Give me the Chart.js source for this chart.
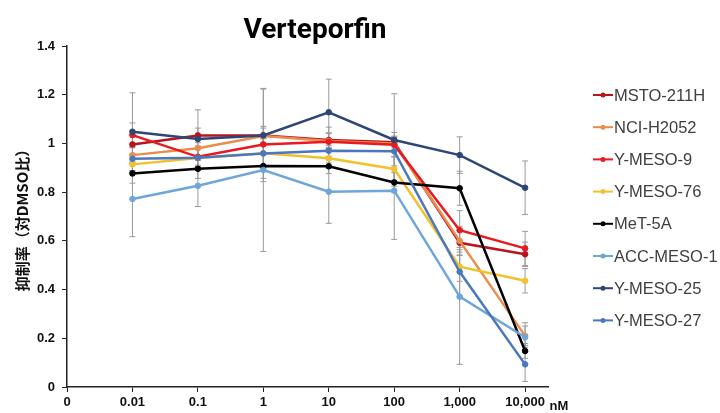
<!DOCTYPE html>
<html>
<head>
<meta charset="utf-8">
<script src="https://cdn.jsdelivr.net/npm/chart.js@4.4.1/dist/chart.umd.min.js"></script>
<style>
html,body{margin:0;padding:0;background:#fff}
#wrap{width:720px;height:413px;position:relative}
</style>
</head>
<body>
<div id="wrap"><canvas id="chart"></canvas></div>
<script>
// concentrations (nM) shown on the x axis, "0" has no data
const concentrations = ["0", "0.01", "0.1", "1", "10", "100", "1,000", "10,000"]

const cellLines = ["MSTO-211H", "NCI-H2052", "Y-MESO-9", "Y-MESO-76", "MeT-5A", "ACC-MESO-1", "Y-MESO-25", "Y-MESO-27"]

// mean values, from 0.01 to 10,000 nM
const msto211h = [0.996, 1.033, 1.033, 1.014, 1.005, 0.592, 0.545]
const nciH2052 = [0.952, 0.980, 1.030, 1.010, 1.000, 0.600, 0.210]
const yMeso9 = [1.034, 0.945, 0.996, 1.007, 0.995, 0.644, 0.569]
const yMeso76 = [0.914, 0.940, 0.960, 0.939, 0.895, 0.494, 0.436]
const met5a = [0.877, 0.896, 0.907, 0.906, 0.840, 0.816, 0.148]
const accMeso1 = [0.772, 0.826, 0.891, 0.802, 0.806, 0.371, 0.204]
const yMeso25 = [1.048, 1.018, 1.033, 1.128, 1.014, 0.952, 0.818]
const yMeso27 = [0.937, 0.941, 0.959, 0.970, 0.968, 0.473, 0.093]

// error bar half lengths
const msto211hErr = [0.04, 0.03, 0.03, 0.03, 0.02, 0.05, 0.05]
const nciH2052Err = [0.03, 0.05, 0.04, 0.03, 0.03, 0.06, 0.04]
const yMeso9Err = [0.05, 0.04, 0.04, 0.06, 0.05, 0.08, 0.07]
const yMeso76Err = [0.04, 0.05, 0.06, 0.04, 0.05, 0.06, 0.05]
const met5aErr = [0.04, 0.04, 0.05, 0.03, 0.04, 0.07, 0.03]
const accMeso1Err = [0.155, 0.085, 0.335, 0.13, 0.2, 0.278, 0.06]
const yMeso25Err = [0.16, 0.12, 0.19, 0.136, 0.19, 0.075, 0.11]
const yMeso27Err = [0.05, 0.04, 0.06, 0.05, 0.06, 0.1, 0.07]

const seriesValues = [msto211h, nciH2052, yMeso9, yMeso76, met5a, accMeso1, yMeso25, yMeso27]
const seriesErrors = [msto211hErr, nciH2052Err, yMeso9Err, yMeso76Err, met5aErr, accMeso1Err, yMeso25Err, yMeso27Err]
const colors = ["#B8141E", "#E98D4E", "#E8191F", "#F2C12E", "#000000", "#6FA6DA", "#2E4677", "#4A78BE"]

const datasets = cellLines.map((name, i) => ({
label: name,
data: seriesValues[i].map((v, j) => ({x: j + 1, y: v})),
errors: seriesErrors[i],
borderColor: colors[i],
backgroundColor: colors[i],
borderWidth: 2.5,
pointRadius: 2.8,
pointHoverRadius: 2.8,
pointBorderWidth: 1,
tension: 0,
order: -i
}))

// grey error bars under the lines
const errorBars = {
id: "errorBars",
beforeDatasetsDraw(chart){
const ctx = chart.ctx
const xs = chart.scales.x
const ys = chart.scales.y
ctx.save()
ctx.strokeStyle = "#9a9a9a"
ctx.lineWidth = 1
chart.data.datasets.forEach(ds => {
ds.data.forEach((p, j) => {
const e = ds.errors[j]
const x = xs.getPixelForValue(p.x)
const y1 = ys.getPixelForValue(p.y + e)
const y2 = ys.getPixelForValue(Math.max(0, p.y - e))
ctx.beginPath()
ctx.moveTo(x, y1); ctx.lineTo(x, y2)
ctx.moveTo(x - 3, y1); ctx.lineTo(x + 3, y1)
ctx.moveTo(x - 3, y2); ctx.lineTo(x + 3, y2)
ctx.stroke()
})
})
ctx.restore()
}
}

// title, unit and legend
const extras = {
id: "extras",
afterDraw(chart){
const ctx = chart.ctx
ctx.save()
ctx.fillStyle = "#000"
ctx.textAlign = "center"
ctx.textBaseline = "alphabetic"
ctx.font = "bold 28px Roboto"
ctx.fillText("Verteporfin", 315, 38)

ctx.font = "bold 13px 'Liberation Sans'"
ctx.fillStyle = "#111"
ctx.textBaseline = "middle"
ctx.fillText("nM", 559, 406)

ctx.font = "16.5px 'Liberation Sans'"
ctx.textAlign = "left"
chart.data.datasets.forEach((ds, i) => {
const y = 95 + i * 32.2
ctx.strokeStyle = ds.borderColor
ctx.lineWidth = 2
ctx.beginPath()
ctx.moveTo(593, y); ctx.lineTo(613, y)
ctx.stroke()
ctx.fillStyle = ds.borderColor
ctx.beginPath()
ctx.arc(603, y, 2.5, 0, Math.PI * 2)
ctx.fill()
ctx.fillStyle = "#404040"
ctx.fillText(ds.label, 614, y + 1)
})
ctx.restore()
}
}

new Chart(document.getElementById("chart"), {
type: "line",
data: {datasets: datasets},
plugins: [errorBars, extras],
options: {
responsive: true,
maintainAspectRatio: false,
animation: false,
layout: {padding: {top: 46, right: 172, bottom: 0, left: 0}},
plugins: {
legend: {display: false},
title: {display: false},
tooltip: {enabled: false}
},
scales: {
x: {
type: "linear",
min: 0,
max: 7.35,
afterFit: s => { s.height = 26 },
border: {color: "#222", width: 1.5},
grid: {drawOnChartArea: false, tickLength: 5, color: "#222", lineWidth: 1},
ticks: {
stepSize: 1,
includeBounds: false,
autoSkip: false,
maxRotation: 0,
padding: 3,
color: "#111",
font: {family: "'Liberation Sans'", size: 13, weight: "bold"},
callback: v => concentrations[v] !== undefined ? concentrations[v] : ""
}
},
y: {
min: 0,
max: 1.4,
afterFit: s => { s.width = 67 },
border: {color: "#222", width: 1.5},
grid: {drawOnChartArea: false, tickLength: 5, color: "#222", lineWidth: 1},
ticks: {
stepSize: 0.2,
padding: 7,
color: "#111",
font: {family: "'Liberation Sans'", size: 13, weight: "bold"},
callback: v => +v.toFixed(1)
},
title: {
display: true,
text: "抑制率（対DMSO比）",
color: "#111",
padding: {top: 13, bottom: 0},
font: {family: "'Noto Sans CJK JP'", size: 15, weight: "bold"}
}
}
}
}
})
</script>
</body>
</html>
